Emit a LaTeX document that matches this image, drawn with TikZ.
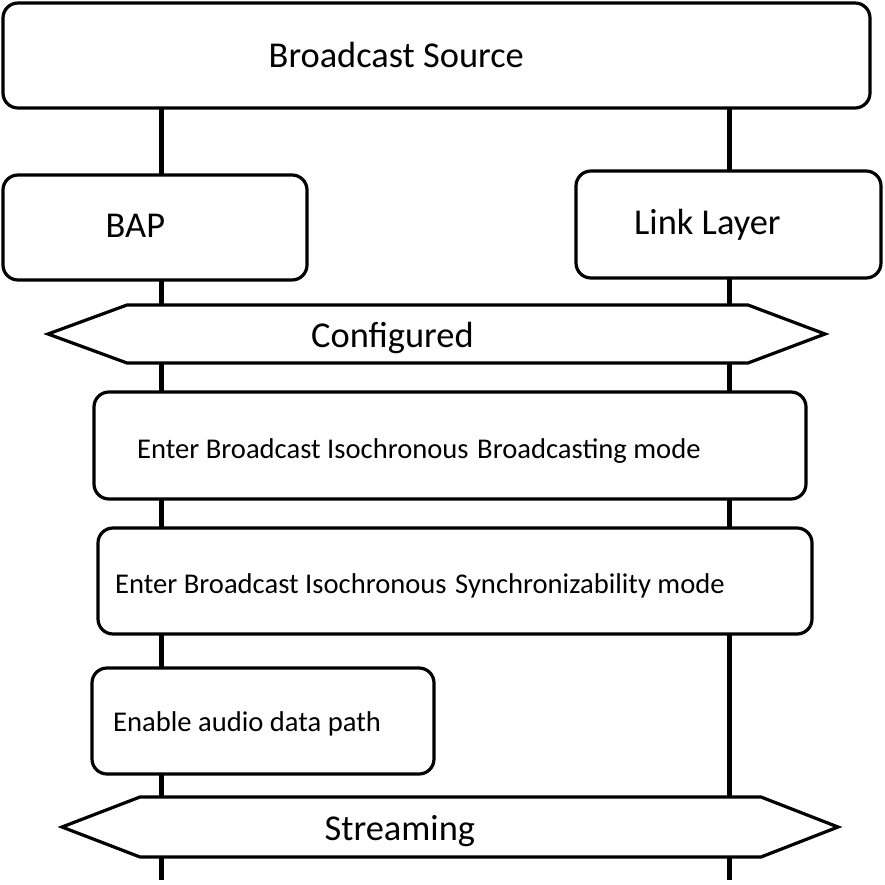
\documentclass[tikz,border=0pt]{standalone}
\usepackage{fontspec}
\setmainfont{Carlito}
\begin{document}
\begin{tikzpicture}[x=1pt,y=-1pt,
  box/.style={draw=black, line width=3.2pt, rounded corners=15pt, fill=white},
  hexa/.style={draw=black, line width=3.2pt, fill=white},
  life/.style={draw=black, line width=5pt},
  bigtxt/.style={inner sep=0pt, anchor=base west, font=\fontsize{36.4}{43}\selectfont},
  smalltxt/.style={inner sep=0pt, anchor=base west, font=\fontsize{28.6}{34}\selectfont}]
\useasboundingbox (0,0) rectangle (884,885);
% lifelines
\coordinate (l1top) at (161,108);
\coordinate (l1bot) at (161,880);
\coordinate (l2top) at (729,108);
\coordinate (l2bot) at (729,880);
\draw[life] (l1top) -- (l1bot);
\draw[life] (l2top) -- (l2bot);
% boxes
\draw[box] (3,3) rectangle (870,108);
\node[bigtxt] (src) at (268.5,68) {Broadcast Source};
\draw[box] (3,175) rectangle (307,280);
\node[bigtxt] (bap) at (105.5,237) {BAP};
\draw[box] (576,171) rectangle (881,278);
\node[bigtxt] (ll) at (634,234) {Link Layer};
% configured
\draw[hexa] (48,334) -- (127,305) -- (748,305) -- (825,334) -- (748,363) -- (127,363) -- cycle;
\node[bigtxt] (conf) at (311,347) {Configured};
\draw[box] (94,392) rectangle (806,499);
\node[smalltxt] (ebb) at (137,458) {Enter Broadcast Isochronous\hspace{0.3em}Broadcasting mode};
\draw[box] (98,528) rectangle (812,634);
\node[smalltxt] (ebs) at (115,593) {Enter Broadcast Isochronous\hspace{0.3em}Synchronizability mode};
\draw[box] (92,668) rectangle (434,774);
\node[smalltxt] (ead) at (113,731) {Enable audio data path};
% streaming
\draw[hexa] (62,827) -- (140,797) -- (761,797) -- (838,827) -- (761,857) -- (140,857) -- cycle;
\node[bigtxt] (strm) at (324.5,840) {Streaming};
\end{tikzpicture}
\end{document}
